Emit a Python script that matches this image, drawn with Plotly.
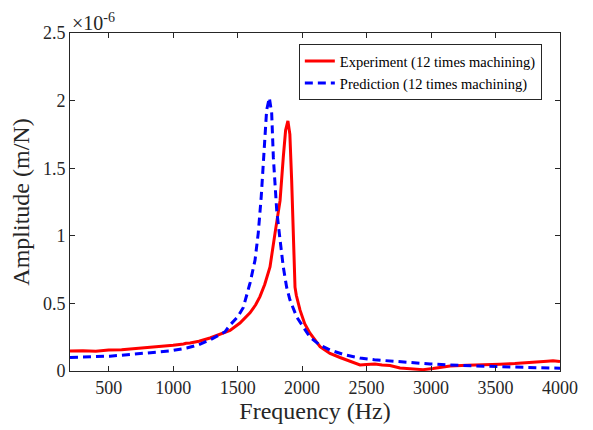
import plotly.graph_objects as go

# Experiment (12 times machining): frequency (Hz), amplitude (x1e-6 m/N)
exp_freq = [200, 300, 400, 500, 600, 700, 800, 900, 1000, 1080, 1100, 1131, 1200, 1286, 1350,
            1400, 1441, 1518, 1596, 1640, 1673, 1710, 1751, 1790, 1829, 1854, 1872, 1890, 1905,
            1919, 1932, 1945, 1955, 1984, 2020, 2061, 2139, 2216, 2294, 2380, 2449, 2500, 2565,
            2620, 2681, 2759, 2860, 2938, 3015, 3147, 3280, 3403, 3535, 3650, 3791, 3900, 3946, 4000]
exp_amp = [0.148, 0.150, 0.146, 0.155, 0.157, 0.165, 0.172, 0.182, 0.190, 0.200, 0.205, 0.207,
           0.220, 0.244, 0.265, 0.285, 0.300, 0.355, 0.430, 0.490, 0.550, 0.640, 0.770, 1.020,
           1.260, 1.580, 1.780, 1.850, 1.750, 1.410, 0.920, 0.620, 0.560, 0.450, 0.350, 0.280,
           0.180, 0.130, 0.100, 0.070, 0.045, 0.048, 0.052, 0.045, 0.040, 0.022, 0.015, 0.010,
           0.018, 0.037, 0.042, 0.044, 0.050, 0.055, 0.062, 0.072, 0.076, 0.070]

# Prediction (12 times machining)
pred_freq = [200, 350, 510, 700, 850, 975, 1105, 1200, 1286, 1350, 1402, 1441, 1500, 1544, 1596,
             1635, 1660, 1683, 1704, 1725, 1746, 1764, 1777, 1790, 1803, 1829, 1854, 1880, 1906,
             1958, 2036, 2061, 2140, 2216, 2330, 2449, 2560, 2681, 2759, 2870, 2992, 3147, 3300,
             3535, 3750, 3922, 4000]
pred_amp = [0.100, 0.105, 0.110, 0.125, 0.137, 0.148, 0.170, 0.195, 0.230, 0.260, 0.290, 0.340,
            0.400, 0.470, 0.650, 0.820, 1.020, 1.290, 1.630, 1.930, 2.020, 1.910, 1.580, 1.340,
            1.190, 0.970, 0.770, 0.620, 0.525, 0.400, 0.280, 0.250, 0.190, 0.155, 0.120, 0.096,
            0.083, 0.074, 0.066, 0.058, 0.052, 0.044, 0.038, 0.032, 0.026, 0.022, 0.021]

x_ticks = [500, 1000, 1500, 2000, 2500, 3000, 3500, 4000]
y_ticks = [0, 0.5, 1, 1.5, 2, 2.5]
y_tick_labels = ["0", "0.5", "1", "1.5", "2", "2.5"]

FONT = "Liberation Serif, Times New Roman, serif"
INK = "#262626"

fig = go.Figure()
fig.add_trace(go.Scatter(x=exp_freq, y=exp_amp, mode="lines",
                         name="Experiment (12 times machining)",
                         line=dict(color="#ff0000", width=3)))
fig.add_trace(go.Scatter(x=pred_freq, y=pred_amp, mode="lines",
                         name="Prediction (12 times machining)",
                         line=dict(color="#0000ff", width=3, dash="8px,5px")))

axis_common = dict(showline=True, linecolor=INK, linewidth=1, mirror="ticks",
                   ticks="inside", ticklen=5, tickcolor=INK, showgrid=False,
                   zeroline=False, automargin=False,
                   tickfont=dict(family=FONT, size=18, color=INK))

fig.update_xaxes(range=[200, 4000], tickvals=x_ticks,
                 title=dict(text="Frequency (Hz)", font=dict(family=FONT, size=24, color=INK),
                            standoff=4),
                 **axis_common)
fig.update_yaxes(range=[0, 2.5], tickvals=y_ticks, ticktext=y_tick_labels,
                 title=dict(text="Amplitude (m/N)", font=dict(family=FONT, size=24, color=INK),
                            standoff=6),
                 **axis_common)

fig.add_annotation(text="×10<sup>-6</sup>", xref="paper", yref="paper", x=0.0, y=1.0,
                   xanchor="left", yanchor="bottom", showarrow=False, yshift=-3,
                   font=dict(family=FONT, size=20, color=INK))

fig.update_layout(
    width=593, height=430,
    margin=dict(l=70, r=33, t=33, b=59),
    plot_bgcolor="white", paper_bgcolor="white",
    showlegend=True,
    legend=dict(x=0.467, y=0.967, xanchor="left", yanchor="top",
                bgcolor="white", bordercolor=INK, borderwidth=1,
                font=dict(family=FONT, size=14.5, color="black"),
                tracegroupgap=0, itemwidth=30),
)

fig.write_html("out.html", config={"displayModeBar": False},
               post_script="document.body.style.margin='0';document.body.style.overflow='hidden';")
